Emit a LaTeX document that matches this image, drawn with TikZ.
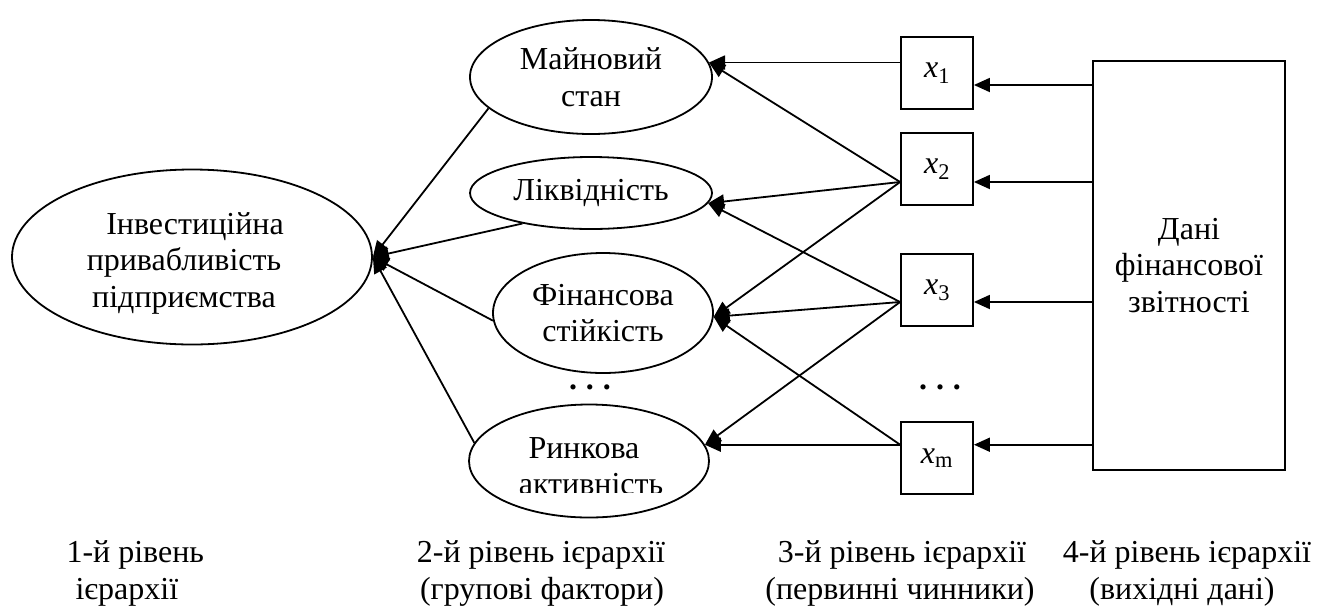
\documentclass[tikz,border=0pt]{standalone}
\usepackage{fontspec}
\setmainfont{Liberation Serif}
\newfontfamily\tnr{Liberation Serif}
\usetikzlibrary{shapes.geometric,arrows.meta,calc}
\begin{document}
\begin{tikzpicture}[x=1pt,y=-1pt,
  every node/.style={font=\tnr\fontsize{32}{36.5}\selectfont},
  ell/.style={draw,ellipse,line width=1.8pt,inner sep=0pt,align=center},
  xbox/.style={draw,line width=1.8pt,minimum width=72pt,minimum height=72pt,inner sep=0pt},
  con/.style={line width=1.8pt},
  arr/.style={con,-{Triangle[length=16pt,width=14pt]}},
  lbl/.style={anchor=base west},
  clbl/.style={anchor=base}]
\useasboundingbox (0,0) rectangle (1317,606);
% level 1
\node[ell,minimum width=360pt,minimum height=175pt] (main) at (192,257) {};
\node[align=center] (maint) at (184,263) {\hspace*{22pt}Інвестиційна\\привабливість\\підприємства};
% level 2
\node[ell,minimum width=242pt,minimum height=114pt] (may) at (591,77) {Майновий\\стан};
\node[ell,minimum width=242pt,minimum height=72pt] (liq) at (591,193) {Ліквідність};
\node[ell,minimum width=220pt,minimum height=120pt] (fin) at (603,313) {Фінансова\\стійкість};
\node[ell,minimum width=240pt,minimum height=113pt] (rin) at (589,461) {};
\begin{scope}
\clip (469,400) rectangle (710,492);
\node[clbl] (rint1) at (584,458) {Ринкова};
\node[clbl] (rint2) at (591,494) {активність};
\end{scope}
% level 3
\node[xbox] (x1) at (937,73) {\textit{x}\textsubscript{1}};
\node[xbox] (x2) at (937,169) {\textit{x}\textsubscript{2}};
\node[xbox] (x3) at (937,290) {\textit{x}\textsubscript{3}};
\node[xbox] (xm) at (937,458) {\textit{x}\textsubscript{m}};
% level 4
\node[draw,line width=1.8pt,minimum width=192pt,minimum height=409pt,align=center] (data) at (1189,265.5) {Дані\\фінансової\\звітності};
% coordinates
\coordinate (x1R) at ([yshift=-12pt]x1.east);
\coordinate (x2R) at ([yshift=-13pt]x2.east);
\coordinate (x2L) at ([yshift=-13pt]x2.west);
\coordinate (x3R) at ([yshift=-12pt]x3.east);
\coordinate (x3L) at ([yshift=-12pt]x3.west);
\coordinate (xmR) at (xm.east |- rin.8);
\coordinate (xmL) at (xm.west |- rin.8);
% data -> x
\draw[arr] (data.west |- x1R) -- (x1R);
\draw[arr] (data.west |- x2R) -- (x2R);
\draw[arr] (data.west |- x3R) -- (x3R);
\draw[arr] (data.west |- xmR) -- (xmR);
% x -> level 2
\draw[arr] (x1.west |- may.7) -- (may.7);
\draw[arr] (x2L) -- (may.7);
\draw[arr] (x2L) -- (liq.-5);
\draw[arr] (x2L) -- (fin.-2);
\draw[arr] (x3L) -- (liq.-5);
\draw[arr] (x3L) -- (fin.-2);
\draw[arr] (x3L) -- (rin.8);
\draw[arr] (xmL) -- (fin.-2);
\draw[arr] (xmL) -- (rin.8);
% level 2 -> level 1
\draw[arr] (may.197) -- (main.east);
\draw[arr] (liq.204) -- (main.east);
\draw[arr] (fin.184) -- (main.east);
\draw[arr] (rin.171) -- (main.east);
% dots
\node[clbl] (dots2) at (590,389) {\textbf{.\hspace{9pt}.\hspace{9pt}.}};
\node[clbl] (dots3) at (940,389) {\textbf{.\hspace{9pt}.\hspace{9pt}.}};
% labels
\node[lbl] (l1a) at (63,562) {1-й рівень};
\node[lbl] (l1b) at (72,599) {ієрархії};
\node[clbl] (l2a) at (541,562) {2-й рівень ієрархії};
\node[clbl] (l2b) at (542,599) {(групові фактори)};
\node[clbl] (l3a) at (902,562) {3-й рівень ієрархії};
\node[clbl] (l3b) at (900,599) {(первинні чинники)};
\node[clbl] (l4a) at (1187,562) {4-й рівень ієрархії};
\node[clbl] (l4b) at (1182,599) {(вихідні дані)};
\end{tikzpicture}
\end{document}
